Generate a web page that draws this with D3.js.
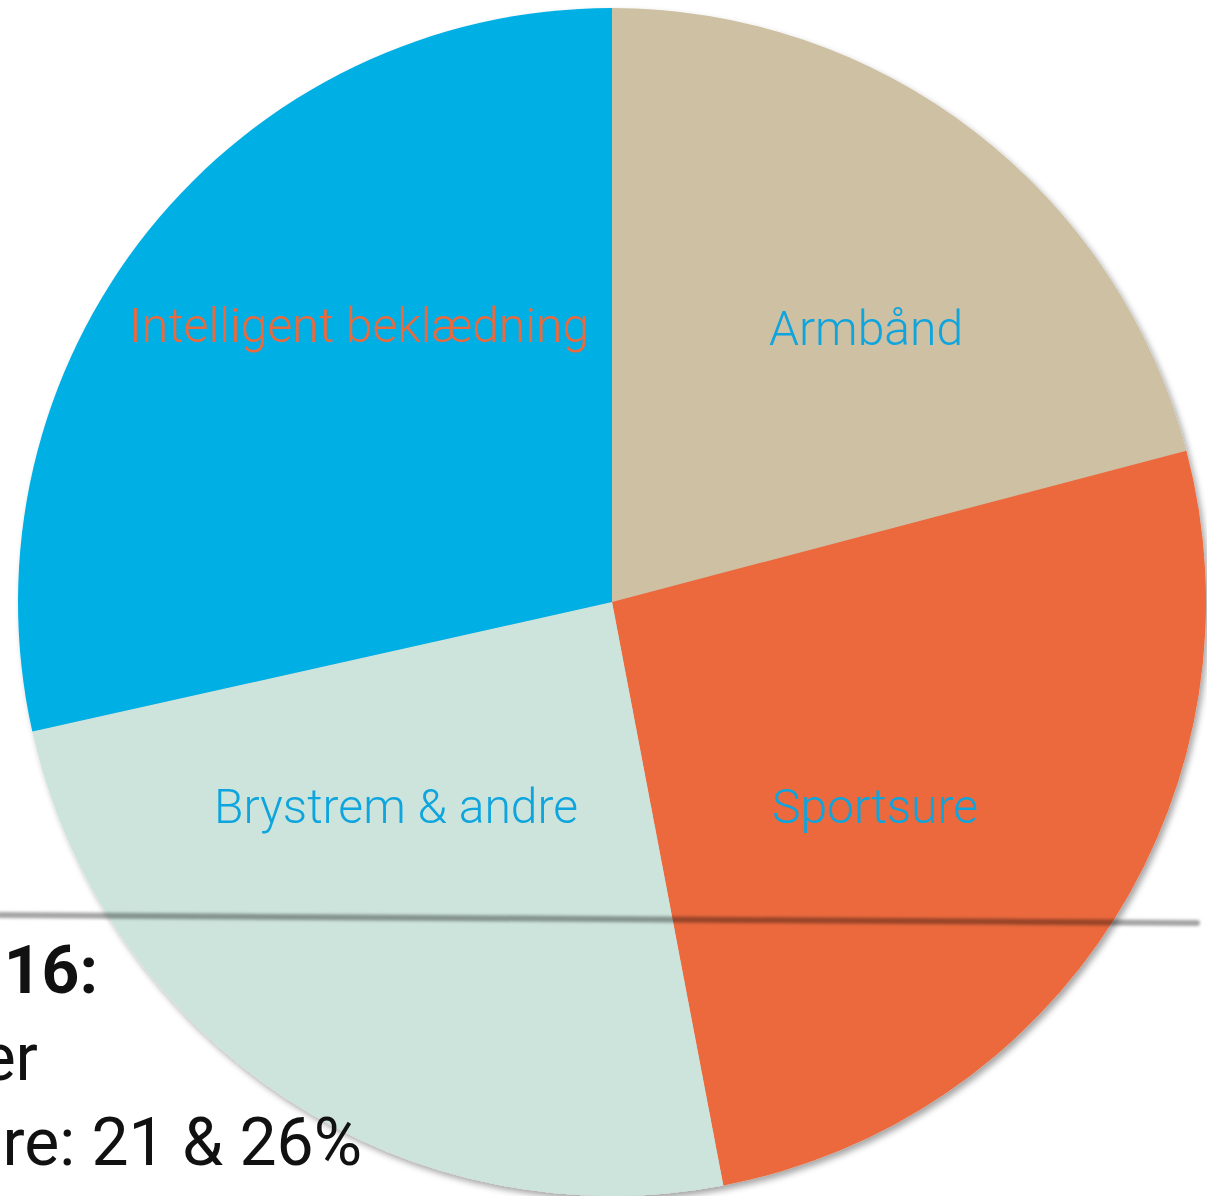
<!DOCTYPE html>
<html>
<head>
<meta charset="utf-8">
<script src="https://cdn.jsdelivr.net/npm/d3@7.9.0/dist/d3.min.js"></script>
<style>
  html, body { margin: 0; padding: 0; background: #fff; overflow: hidden; }
  svg { display: block; }
</style>
</head>
<body>
<svg id="chart" width="1207" height="1196"></svg>
<script>
// Data (share of wearables, %)
const categories = ['Armbånd', 'Sportsure', 'Brystrem & andre', 'Intelligent beklædning'];
const values = [20.9, 26.1, 24.5, 28.5];
const sliceColors = ['#cdc0a3', '#eb693c', '#cde4dc', '#02afe4'];
const labelColors = ['#0ea4de', '#0ea4de', '#0ea4de', '#eb693c'];

// caption text at the bottom left (cut off on the left)
const captionLines = ['16:', 'er', 're: 21 & 26%'];

// layout
const width = 1207, height = 1196;
const cx = 612, cy = 602, radius = 594;
// label anchors relative to centre (layout only)
const labelOffsets = [[254, -257], [263, 221], [-216, 221], [-253, -260]];

const svg = d3.select('#chart');

const defs = svg.append('defs');
const shadow = defs.append('filter').attr('id', 'shadow')
    .attr('x', '-10%').attr('y', '-10%').attr('width', '120%').attr('height', '120%');
shadow.append('feDropShadow')
    .attr('dx', 3).attr('dy', 4).attr('stdDeviation', 3)
    .attr('flood-color', '#000').attr('flood-opacity', 0.35);

const blur = defs.append('filter').attr('id', 'blur')
    .attr('x', '-5%').attr('y', '-300%').attr('width', '110%').attr('height', '700%');
blur.append('feGaussianBlur').attr('stdDeviation', 1.6);

// Pie
const pie = d3.pie().sort(null).value((d) => d).startAngle(0).endAngle(2 * Math.PI);
const arcGenerator = d3.arc().innerRadius(0).outerRadius(radius);
const arcData = pie(values);

const pieG = svg.append('g')
    .attr('transform', `translate(${cx},${cy})`)
    .attr('filter', 'url(#shadow)');

pieG.selectAll('path')
    .data(arcData)
    .join('path')
    .attr('d', arcGenerator)
    .attr('fill', (d, i) => sliceColors[i]);

// Labels
svg.append('g')
    .attr('transform', `translate(${cx},${cy})`)
    .selectAll('text')
    .data(arcData)
    .join('text')
    .attr('x', (d, i) => labelOffsets[i][0])
    .attr('y', (d, i) => labelOffsets[i][1])
    .attr('text-anchor', 'middle')
    .attr('font-family', 'Roboto, sans-serif')
    .attr('font-weight', 300)
    .attr('font-size', 48)
    .attr('fill', (d, i) => labelColors[i])
    .text((d, i) => categories[i]);

// grey rule crossing the page, blended over the pie
svg.append('line')
    .attr('x1', 0).attr('y1', 915)
    .attr('x2', 1197).attr('y2', 923)
    .attr('stroke', '#a4a4a4')
    .attr('stroke-width', 6)
    .attr('stroke-linecap', 'round')
    .attr('filter', 'url(#blur)')
    .style('mix-blend-mode', 'multiply');

// caption on top
const caption = svg.append('g')
    .attr('font-family', 'Roboto, sans-serif')
    .attr('fill', '#111')
    .attr('text-anchor', 'end');

const captionPos = [[98, 993, 700], [38, 1080, 400], [362, 1165, 400]];
captionLines.forEach((t, i) => {
    caption.append('text')
        .attr('x', captionPos[i][0])
        .attr('y', captionPos[i][1])
        .attr('font-size', 66)
        .attr('font-weight', captionPos[i][2])
        .text(t);
});
</script>
</body>
</html>
